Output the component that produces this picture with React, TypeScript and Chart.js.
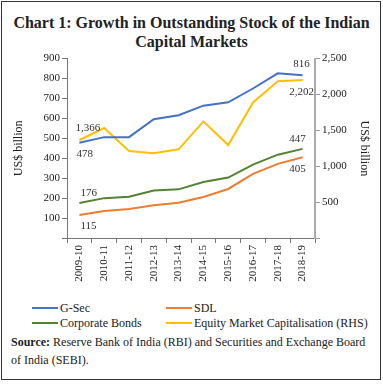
import React, { useEffect, useRef } from "react";
import { Chart, registerables } from "chart.js";

Chart.register(...registerables);

const categories = ["2009-10", "2010-11", "2011-12", "2012-13", "2013-14", "2014-15", "2015-16", "2016-17", "2017-18", "2018-19"];
const gSec = [478, 506, 506, 596, 616, 664, 681, 750, 826, 816];
const sdl = [115, 136, 146, 164, 177, 206, 246, 322, 372, 405];
const corporate = [176, 200, 207, 238, 244, 281, 303, 368, 418, 447];
const equity = [1366, 1533, 1213, 1181, 1236, 1625, 1295, 1890, 2184, 2202];
const leftTicks = { min: 0, max: 900, step: 100 };
const rightTicks = { min: 0, max: 2500, step: 500 };

const SERIF = "'Liberation Serif', 'DejaVu Serif', serif";

type Lbl = { ds: number; i: number; text: string; dx: number; dy: number; align: CanvasTextAlign };
const labels: Lbl[] = [
  { ds: 3, i: 0, text: "1,366", dx: -4, dy: -12, align: "left" },
  { ds: 0, i: 0, text: "478", dx: -3, dy: 11, align: "left" },
  { ds: 2, i: 0, text: "176", dx: 1, dy: -10, align: "left" },
  { ds: 1, i: 0, text: "115", dx: 1, dy: 11, align: "left" },
  { ds: 0, i: 9, text: "816", dx: -1, dy: -11, align: "center" },
  { ds: 3, i: 9, text: "2,202", dx: -1, dy: 12, align: "center" },
  { ds: 2, i: 9, text: "447", dx: -5, dy: -10, align: "center" },
  { ds: 1, i: 9, text: "405", dx: -5, dy: 12, align: "center" },
];

const labelPlugin = {
  id: "endLabels",
  afterDatasetsDraw(chart: any) {
    const ctx = chart.ctx;
    ctx.save();
    ctx.font = `11px ${SERIF}`;
    ctx.fillStyle = "#333";
    ctx.textBaseline = "middle";
    for (const l of labels) {
      const el = chart.getDatasetMeta(l.ds).data[l.i];
      ctx.textAlign = l.align;
      ctx.fillText(l.text, el.x + l.dx, el.y + l.dy);
    }
    ctx.restore();
  },
};

const legendItems = [
  { label: "G-Sec", color: "#4472C4" },
  { label: "SDL", color: "#ED7D31" },
  { label: "Corporate Bonds", color: "#548235" },
  { label: "Equity Market Capitalisation (RHS)", color: "#FFC000" },
];

export default function App() {
  const ref = useRef<HTMLCanvasElement>(null);
  useEffect(() => {
    const ds = (label: string, data: number[], color: string, axis: string) => ({
      label, data, borderColor: color, backgroundColor: color, borderWidth: 2,
      pointRadius: 0, tension: 0, yAxisID: axis,
    });
    const chart = new Chart(ref.current!, {
      type: "line",
      data: {
        labels: categories,
        datasets: [
          ds("G-Sec", gSec, "#4472C4", "y"),
          ds("SDL", sdl, "#ED7D31", "y"),
          ds("Corporate Bonds", corporate, "#548235", "y"),
          ds("Equity Market Capitalisation (RHS)", equity, "#FFC000", "y1"),
        ],
      },
      options: {
        animation: false,
        responsive: false,
        maintainAspectRatio: false,
        layout: { padding: { top: 6, left: 0, right: 0, bottom: 0 } },
        plugins: { legend: { display: false }, tooltip: { enabled: false } },
        scales: {
          x: {
            offset: true,
            grid: { offset: true, drawOnChartArea: false, drawTicks: true, tickLength: 5, color: "#777" },
            border: { color: "#777", width: 1 },
            ticks: { maxRotation: 90, minRotation: 90, color: "#222", font: { family: SERIF, size: 11 }, padding: 2, autoSkip: false },
            afterFit: (s: any) => { s.height = 57; },
          },
          y: {
            position: "left",
            min: leftTicks.min, max: leftTicks.max,
            grid: { drawOnChartArea: false, tickLength: 5, color: "#777" },
            border: { color: "#777", width: 1 },
            ticks: { stepSize: leftTicks.step, color: "#222", font: { family: SERIF, size: 11 }, padding: 2,
              callback: (v: any) => (v === 0 ? "" : String(v)) },
            title: { display: true, text: "US$ billion", color: "#222", font: { family: SERIF, size: 12 }, padding: { top: 12, bottom: 0 } },
            afterFit: (s: any) => { s.width = 67; },
          },
          y1: {
            position: "right",
            min: rightTicks.min, max: rightTicks.max,
            grid: { drawOnChartArea: false, tickLength: 5, color: "#999" },
            border: { color: "#aaa", width: 2 },
            ticks: { stepSize: rightTicks.step, color: "#222", font: { family: SERIF, size: 11 }, padding: 2,
              callback: (v: any) => (v === 0 ? "" : Number(v).toLocaleString("en-US")) },
            title: { display: true, text: "US$ billion", color: "#222", font: { family: SERIF, size: 12 }, padding: { top: 12, bottom: 0 } },
            afterFit: (s: any) => { s.width = 68; },
          },
        },
      },
      plugins: [labelPlugin],
    });
    return () => chart.destroy();
  }, []);

  return (
    <div style={{ position: "fixed", left: 0, top: 0, width: 383, height: 384, background: "#fff", fontFamily: SERIF }}>
      <div style={{ position: "absolute", left: 1, top: 1, width: 378, height: 377, border: "1.5px solid #333" }} />
      <div style={{ position: "absolute", top: 13, left: 0, width: 383, textAlign: "center", fontWeight: "bold", fontSize: 16, lineHeight: "19px", color: "#222" }}>
        Chart 1: Growth in Outstanding Stock of the Indian<br />Capital Markets
      </div>
      <canvas ref={ref} width={383} height={245} style={{ position: "absolute", left: 0, top: 50, width: 383, height: 245 }} />
      <div style={{ position: "absolute", top: 300, left: 0, width: 383, fontSize: 12, color: "#222" }}>
        {legendItems.map((it, k) => (
          <div key={it.label} style={{ position: "absolute", left: k % 2 === 0 ? 32 : 166, top: Math.floor(k / 2) * 15, display: "flex", alignItems: "center", whiteSpace: "nowrap", lineHeight: "16px" }}>
            <span style={{ display: "inline-block", width: 26, height: 2, background: it.color, marginRight: 2 }} />
            <span>{it.label}</span>
          </div>
        ))}
      </div>
      <div style={{ position: "absolute", top: 333, left: 11, width: 362, fontSize: 12, lineHeight: "18px", color: "#222" }}>
        <b>Source:</b> Reserve Bank of India (RBI) and Securities and Exchange Board of India (SEBI).
      </div>
    </div>
  );
}
